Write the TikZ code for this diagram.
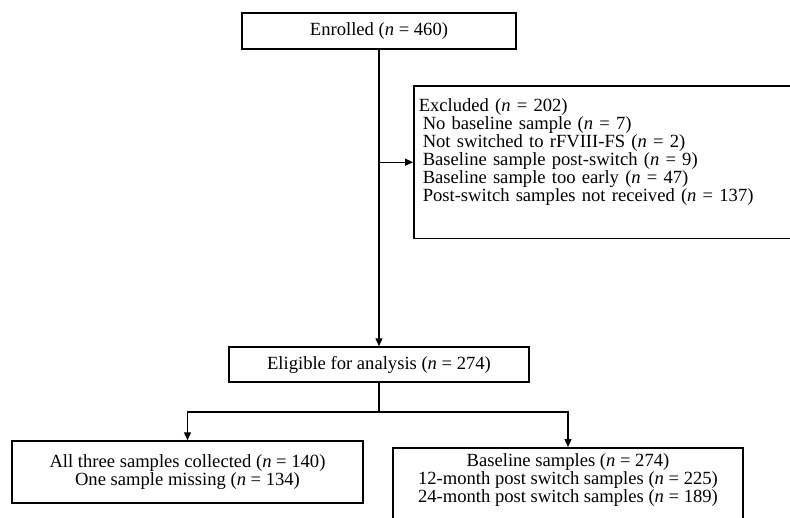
\documentclass[tikz,border=0pt]{standalone}
\usepackage{fontspec}
\setmainfont{Liberation Serif}
\usetikzlibrary{arrows.meta}
\tikzset{
	box/.style = {draw, line width = 1.5pt, align = center, inner xsep = 6pt},
	flow/.style = {->, line width = 1.3pt, > = {Triangle[length = 8pt, width = 7pt]}}
}

\begin{document}
\begin{tikzpicture}[x = 1pt, y = -1pt, font = \fontsize{18.6}{18}\selectfont]
	\useasboundingbox (0,0) rectangle (790,517);
	% boxes
	\node [box, minimum width = 274, minimum height = 36] (enrolled) at (379,31) {Enrolled (\textit{n} = 460)};
	\node [box, anchor = north west, align = left, text width = 385pt, inner xsep = 5pt, inner ysep = 13pt] (excluded) at (413,85) {Excluded (\textit{n} = 202)\\
		\hspace*{4pt}No baseline sample (\textit{n} = 7)\\
		\hspace*{4pt}Not switched to rFVIII-FS (\textit{n} = 2)\\
		\hspace*{4pt}Baseline sample post-switch (\textit{n} = 9)\\
		\hspace*{4pt}Baseline sample too early (\textit{n} = 47)\\
		\hspace*{4pt}Post-switch samples not received (\textit{n} = 137)\rule[-24pt]{0pt}{24pt}};
	\node [box, minimum width = 300, minimum height = 35] (eligible) at (379,364.5) {Eligible for analysis (\textit{n} = 274)};
	\node [box, minimum width = 351, minimum height = 62] (allthree) at (187.5,472) {All three samples collected (\textit{n} = 140)\\ One sample missing (\textit{n} = 134)};
	\node [box, anchor = north, minimum width = 350, inner ysep = 6pt] (baseline) at (568,447) {Baseline samples (\textit{n} = 274)\\
		12-month post switch samples (\textit{n} = 225)\\
		24-month post switch samples (\textit{n} = 189)\rule[-20pt]{0pt}{20pt}};
	% connectors
	\draw [flow] (enrolled) -- (eligible);
	\draw [flow] (enrolled.south |- excluded.west) -- (excluded.west);
	\coordinate (split) at (eligible.south |- 0,412);
	\draw [line width = 1.3pt] (eligible) -- (split);
	\draw [flow] (split) -| (allthree);
	\draw [flow] (split) -| (baseline);
\end{tikzpicture}
\end{document}
